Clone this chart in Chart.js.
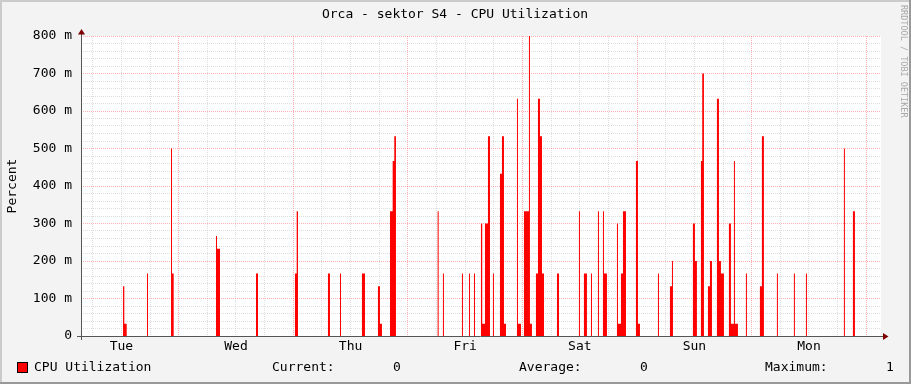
<!DOCTYPE html>
<html>
<head>
<meta charset="utf-8">
<script src="https://cdn.jsdelivr.net/npm/chart.js@4.4.1/dist/chart.umd.min.js"></script>
<style>
  html, body { margin: 0; padding: 0; background: #f3f3f3; }
  #wrap { width: 911px; height: 384px; }
</style>
</head>
<body>
<div id="wrap"><canvas id="cpu" width="911" height="384"></canvas></div>
<script>
// hours counted from Tue 00:00, graph covers roughly one week
const xMin = 3.54;
const xMax = 171.08;
const dayNames = ["Tue", "Wed", "Thu", "Fri", "Sat", "Sun", "Mon"];

// step data: value holds from stepHours[i] until stepHours[i + 1] (Percent)
const stepHours = [
  12.34, 12.61, 13.11, 17.36, 17.57, 22.39, 22.60, 22.95,
  31.81, 32.02, 32.65, 40.19, 40.61, 48.35, 48.71, 48.98,
  55.26, 55.68, 57.78, 57.99, 62.38, 63.01,
  65.73, 66.15, 66.57, 68.25, 68.81, 69.15, 69.50,
  78.23, 78.44, 79.34, 79.55, 83.32, 83.53, 84.79, 85.00, 85.84, 86.05,
  87.30, 87.57, 88.14, 88.77, 89.19, 89.81, 90.02,
  91.28, 91.70, 92.12, 92.54, 94.84, 95.05, 95.68,
  96.31, 97.35, 97.56, 97.98, 98.82, 99.24, 99.66, 100.08, 100.50,
  103.22, 103.64, 107.82, 108.03, 108.87, 109.50, 110.34, 110.55,
  111.80, 112.01, 112.85, 113.06, 113.69,
  115.78, 115.99, 116.62, 117.04, 117.67, 119.76, 120.18, 120.60,
  124.37, 124.58, 126.88, 127.30, 127.51,
  131.69, 132.11, 132.53, 133.37, 133.64, 134.00,
  134.84, 135.26, 135.68, 136.72, 137.14, 137.56, 138.19,
  139.23, 139.65, 140.28, 140.49, 141.12, 142.79, 143.00,
  145.72, 146.14, 146.56, 149.28, 149.49, 152.84, 153.05, 155.36, 155.57,
  163.31, 163.52, 165.20, 165.62
];
const stepValues = [
  0.133, 0.033, 0, 0.167, 0, 0.5, 0.167, 0,
  0.267, 0.233, 0, 0.167, 0, 0.167, 0.333, 0,
  0.167, 0, 0.167, 0, 0.167, 0,
  0.133, 0.033, 0, 0.333, 0.467, 0.533, 0,
  0.333, 0, 0.167, 0, 0.167, 0, 0.167, 0, 0.167, 0,
  0.3, 0.033, 0.3, 0.533, 0, 0.167, 0,
  0.433, 0.533, 0.033, 0, 0.633, 0.033, 0,
  0.333, 0.8, 0.033, 0, 0.167, 0.633, 0.533, 0.167, 0,
  0.167, 0, 0.333, 0, 0.167, 0, 0.167, 0,
  0.333, 0, 0.333, 0.167, 0,
  0.3, 0.033, 0.167, 0.333, 0, 0.467, 0.033, 0,
  0.167, 0, 0.133, 0.2, 0,
  0.3, 0.2, 0, 0.467, 0.7, 0,
  0.133, 0.2, 0, 0.633, 0.2, 0.167, 0,
  0.3, 0.033, 0.467, 0.033, 0, 0.167, 0,
  0.133, 0.533, 0, 0.167, 0, 0.167, 0, 0.167, 0,
  0.5, 0, 0.333, 0
];

const yMax = 0.8;
const yMinorStep = 0.02;
const xMinorStep = 6;

const legendLabel = "CPU Utilization";
const legendStats = [["Current:", "0"], ["Average:", "0"], ["Maximum:", "1"]];

const points = [{ x: xMin, y: 0 }];
stepHours.forEach((h, i) => points.push({ x: h, y: stepValues[i] }));
points.push({ x: xMax, y: 0 });

const MONO = "'DejaVu Sans Mono', monospace";
Chart.defaults.font.family = MONO;
Chart.defaults.font.size = 13;
Chart.defaults.color = "#000";

const minorGrid = "rgba(200,200,200,0.6)";
const majorGrid = "rgba(255,80,80,0.45)";

const rrdLook = {
  id: "rrdLook",
  beforeDraw(chart) {
    const { ctx, chartArea: a } = chart;
    ctx.save();
    ctx.fillStyle = "#f3f3f3";
    ctx.fillRect(0, 0, 911, 384);
    ctx.fillStyle = "#cbcbcb";
    ctx.fillRect(0, 0, 911, 2);
    ctx.fillRect(0, 0, 2, 384);
    ctx.fillStyle = "#999";
    ctx.fillRect(0, 382, 911, 2);
    ctx.fillRect(909, 0, 2, 384);
    ctx.fillStyle = "#fff";
    ctx.fillRect(a.left, a.top, a.right - a.left, a.bottom - a.top);
    ctx.restore();
  },
  afterDatasetsDraw(chart) {
    const { ctx, chartArea: a } = chart;
    ctx.save();
    // axes
    ctx.strokeStyle = "#555";
    ctx.lineWidth = 1;
    ctx.beginPath();
    ctx.moveTo(77, a.bottom + 0.5);
    ctx.lineTo(884, a.bottom + 0.5);
    ctx.moveTo(a.left + 0.5, a.bottom + 4);
    ctx.lineTo(a.left + 0.5, 31);
    ctx.stroke();
    ctx.fillStyle = "#7f0000";
    ctx.beginPath();
    ctx.moveTo(883, a.bottom - 3);
    ctx.lineTo(888.5, a.bottom + 0.5);
    ctx.lineTo(883, a.bottom + 4);
    ctx.closePath();
    ctx.fill();
    ctx.beginPath();
    ctx.moveTo(a.left - 3, 34.5);
    ctx.lineTo(a.left + 0.5, 29);
    ctx.lineTo(a.left + 4, 34.5);
    ctx.closePath();
    ctx.fill();
    ctx.restore();
  },
  afterDraw(chart) {
    const { ctx } = chart;
    ctx.save();
    ctx.font = "13px " + MONO;
    ctx.fillStyle = "#000";
    ctx.textBaseline = "middle";
    ctx.textAlign = "center";
    ctx.fillText("Orca - sektor S4 - CPU Utilization", 455, 14.5);

    // legend
    ctx.textAlign = "left";
    ctx.fillStyle = "#ff0000";
    ctx.fillRect(17, 362, 11, 11);
    ctx.strokeStyle = "#000";
    ctx.strokeRect(17.5, 362.5, 10, 10);
    ctx.fillStyle = "#000";
    ctx.fillText(legendLabel, 34, 368);
    const labelX = [272, 519, 765];
    const valueX = [393, 640, 886];
    legendStats.forEach((s, i) => {
      ctx.fillText(s[0], labelX[i], 368);
      ctx.fillText(s[1], valueX[i], 368);
    });

    // watermark
    ctx.translate(903, 5);
    ctx.rotate(Math.PI / 2);
    ctx.font = "8.5px " + MONO;
    ctx.fillStyle = "#a8a8a8";
    ctx.textAlign = "left";
    ctx.fillText("RRDTOOL / TOBI OETIKER", 0, 0);
    ctx.restore();
  }
};

new Chart(document.getElementById("cpu"), {
  type: "line",
  data: {
    datasets: [{
      label: legendLabel,
      data: points,
      stepped: true,
      fill: "origin",
      backgroundColor: "#ff0000",
      borderColor: "rgba(0,0,0,0)",
      borderWidth: 0,
      pointRadius: 0
    }]
  },
  options: {
    responsive: false,
    animation: false,
    devicePixelRatio: 1,
    layout: { padding: { left: 0, top: 36, right: 30, bottom: 0 } },
    plugins: { legend: { display: false }, tooltip: { enabled: false } },
    scales: {
      x: {
        type: "linear",
        min: xMin,
        max: xMax,
        afterBuildTicks: (s) => {
          const t = [];
          for (let h = Math.ceil(xMin / xMinorStep) * xMinorStep; h < xMax; h += xMinorStep) t.push({ value: h });
          s.ticks = t;
        },
        afterFit: (s) => { s.height = 48; },
        ticks: {
          autoSkip: false,
          maxRotation: 0,
          padding: 3,
          callback: (v) => (v % 24 === 12 ? dayNames[Math.floor(v / 24)] : "")
        },
        grid: {
          drawTicks: false,
          color: (c) => (c.tick && c.tick.value % 24 === 0 ? majorGrid : minorGrid)
        },
        border: { display: false, dash: [1, 1] }
      },
      y: {
        min: 0,
        max: yMax,
        afterBuildTicks: (s) => {
          const t = [];
          for (let i = 0; i <= Math.round(yMax / yMinorStep); i++) t.push({ value: i * yMinorStep });
          s.ticks = t;
        },
        afterFit: (s) => { s.width = 81; },
        ticks: {
          autoSkip: false,
          padding: 9,
          callback: (v) => {
            const m = Math.round(v * 1000);
            if (m % 100 !== 0) return "";
            return m === 0 ? "0" : m + " m";
          }
        },
        grid: {
          drawTicks: false,
          color: (c) => (c.tick && Math.round(c.tick.value * 1000) % 100 === 0 ? majorGrid : minorGrid)
        },
        border: { display: false, dash: [1, 1] },
        title: { display: true, text: "Percent", padding: { top: 5, bottom: 0 } }
      }
    }
  },
  plugins: [rrdLook]
});
</script>
</body>
</html>
